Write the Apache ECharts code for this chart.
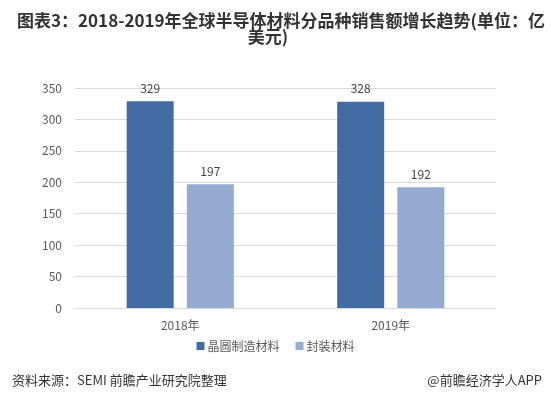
<!DOCTYPE html>
<html>
<head>
<meta charset="utf-8">
<script src="https://cdn.jsdelivr.net/npm/echarts@6/dist/echarts.min.js"></script>
<style>
  html, body { margin: 0; padding: 0; background: #fff; }
  #chart { width: 551px; height: 399px; }
</style>
</head>
<body>
<div id="chart"></div>
<script>
// chart data
const years = ['2018年', '2019年']
const waferMaterials = [329, 328]
const packagingMaterials = [197, 192]
const seriesNames = ['晶圆制造材料', '封装材料']

const font = '"Noto Sans CJK SC", "Noto Sans", sans-serif'
const labelStyle = { show: true, position: 'top', distance: 7, color: '#404040', fontSize: 12, fontFamily: font }
const titleStyle = { fontSize: 17, fontWeight: 'bold', color: '#333', fontFamily: font }
const footStyle = { fontSize: 13, fontWeight: 'normal', color: '#333', fontFamily: font }

const chart = echarts.init(document.getElementById('chart'))
chart.setOption({
    backgroundColor: '#fff',
    title: [
        { text: '图表3：2018-2019年全球半导体材料分品种销售额增长趋势(单位：亿', left: 276, top: 7, textAlign: 'center', textStyle: titleStyle },
        { text: '美元)', left: 263, top: 23, textAlign: 'center', textStyle: titleStyle },
        { text: '资料来源：SEMI 前瞻产业研究院整理', left: 7, top: 369, textStyle: footStyle },
        { text: '@前瞻经济学人APP', right: 4, top: 369, textStyle: footStyle }
    ],
    legend: {
        data: seriesNames,
        top: 335,
        left: 'center',
        itemWidth: 8,
        itemHeight: 8,
        itemGap: 16,
        icon: 'rect',
        textStyle: { fontSize: 12, color: '#595959', fontFamily: font, padding: [0, 0, 0, -2] }
    },
    grid: { left: 75, right: 55, top: 88, bottom: 91 },
    xAxis: {
        type: 'category',
        data: years,
        axisLine: { lineStyle: { color: '#d9d9d9' } },
        axisTick: { show: false },
        axisLabel: { color: '#595959', fontSize: 12, fontFamily: font, margin: 11 }
    },
    yAxis: {
        type: 'value',
        min: 0,
        max: 350,
        interval: 50,
        axisLine: { show: false },
        axisTick: { show: false },
        splitLine: { lineStyle: { color: '#d9d9d9' } },
        axisLabel: { color: '#595959', fontSize: 12, fontFamily: font, margin: 13 }
    },
    series: [
        {
            name: seriesNames[0],
            type: 'bar',
            data: waferMaterials,
            barWidth: 47,
            barGap: '28%',
            itemStyle: { color: '#426ca3' },
            label: labelStyle
        },
        {
            name: seriesNames[1],
            type: 'bar',
            data: packagingMaterials,
            barWidth: 47,
            itemStyle: { color: '#95abd2' },
            label: labelStyle
        }
    ]
})
</script>
</body>
</html>
